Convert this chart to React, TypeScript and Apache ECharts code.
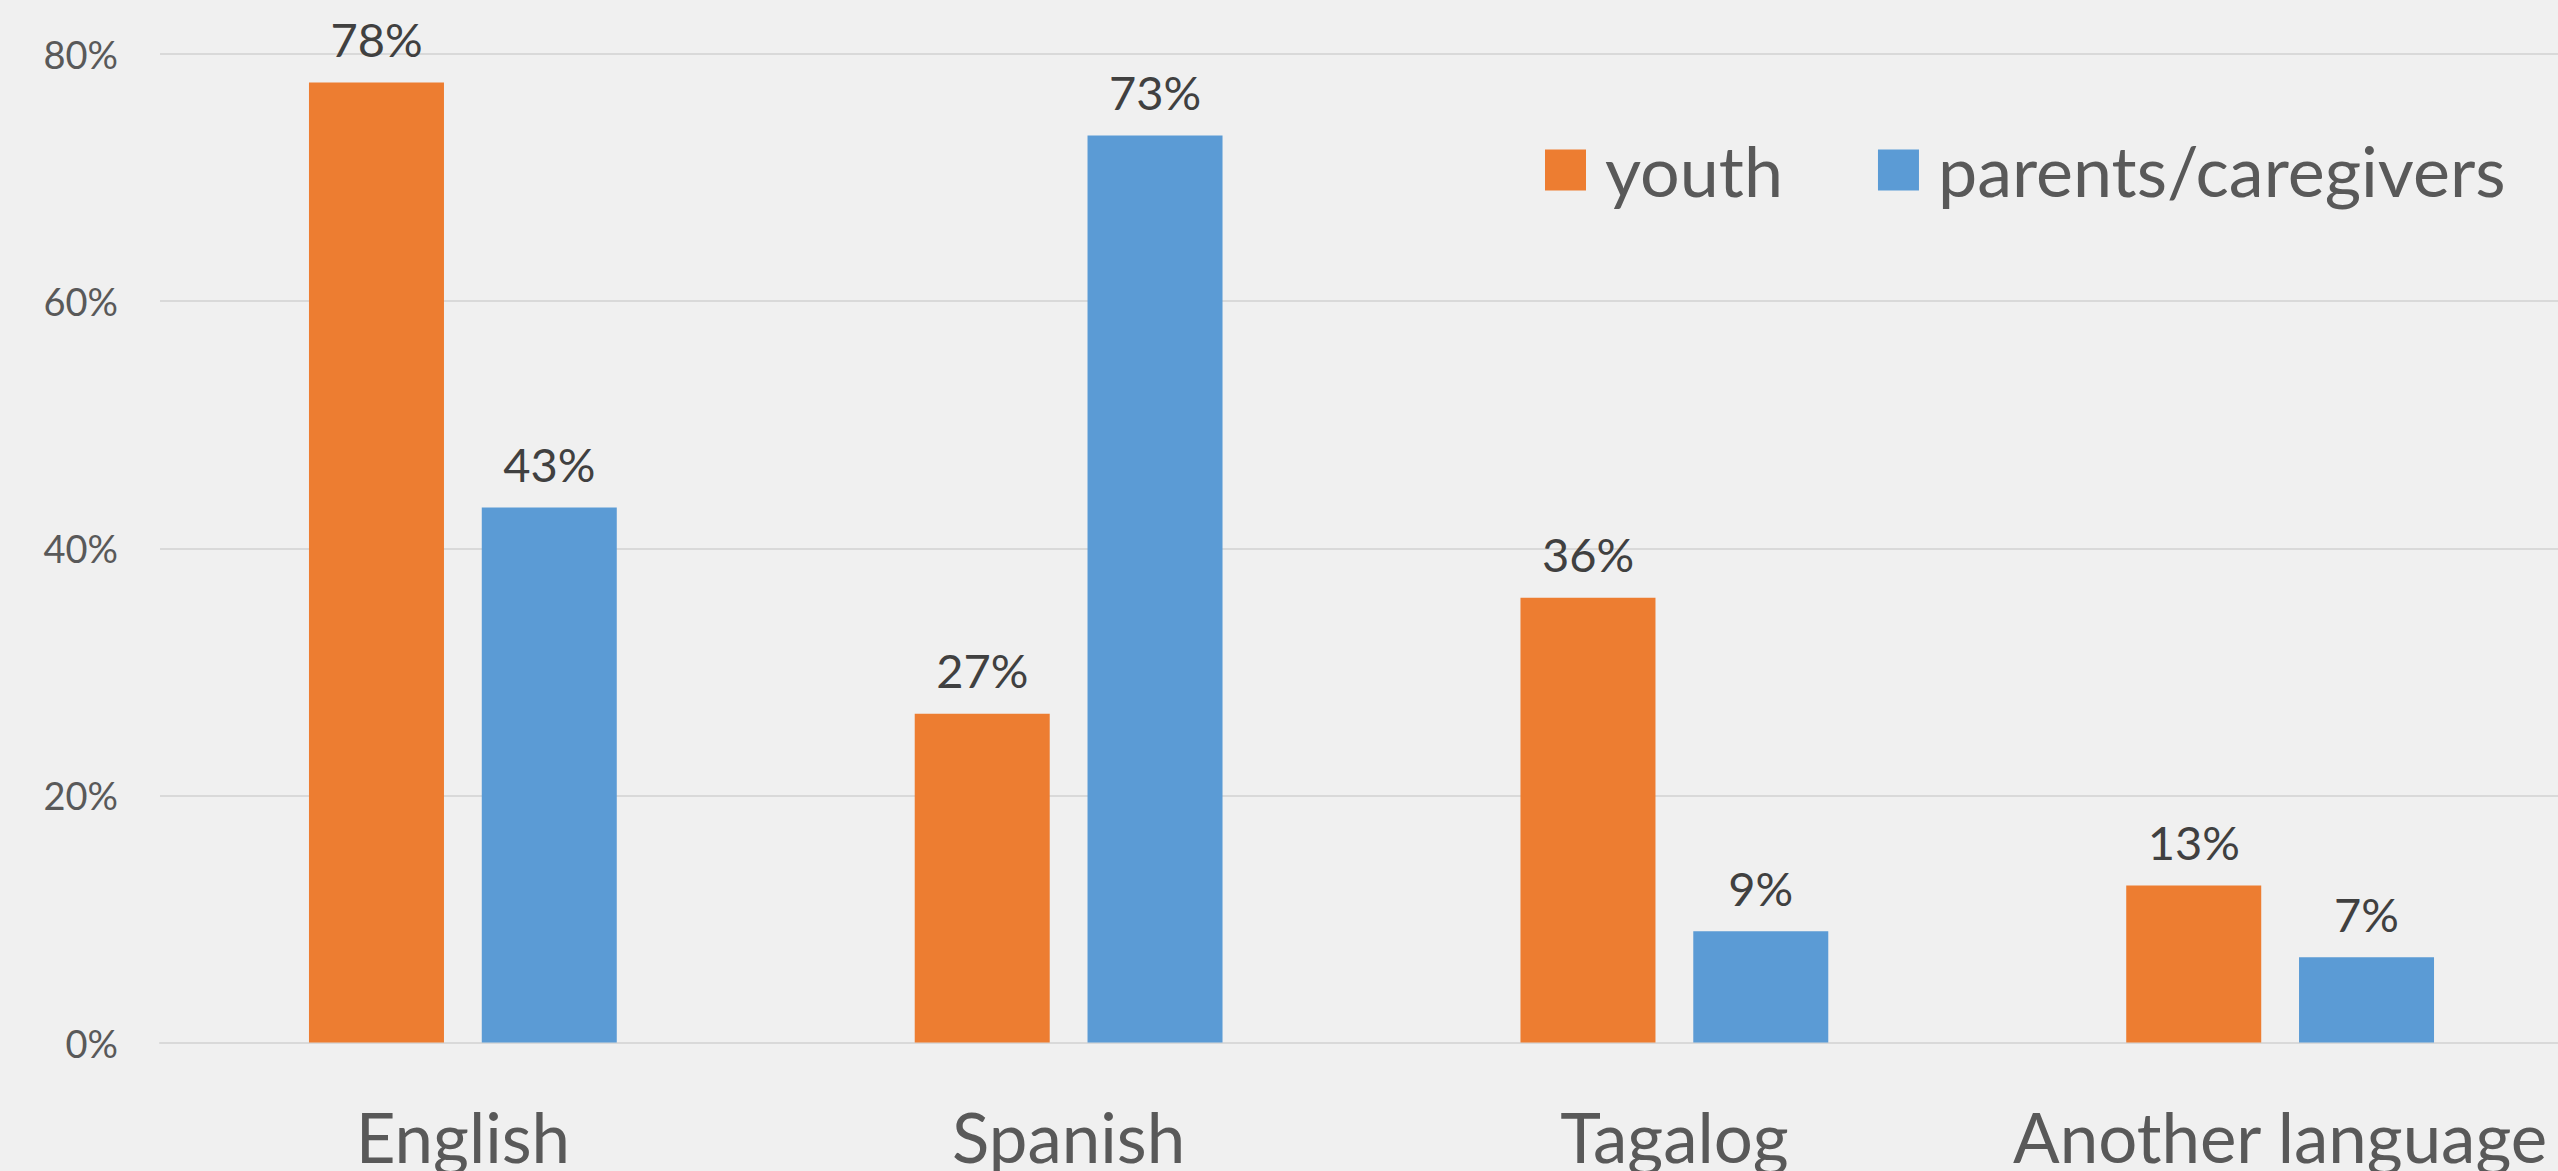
import React, { useEffect, useRef } from "react";
import * as echarts from "echarts";

const categories = ["English", "Spanish", "Tagalog", "Another language"];
const youth = [77.7, 26.6, 36.0, 12.7];
const parents = [43.3, 73.4, 9.0, 6.9];
const seriesNames = ["youth", "parents/caregivers"];
const yTicks = [0, 20, 40, 60, 80];

const FONT = "Lato";

export default function App() {
  const ref = useRef<HTMLDivElement>(null);
  useEffect(() => {
    document.body.style.margin = "0";
    const chart = echarts.init(ref.current!, null, { renderer: "svg" });
    const labelCfg = {
      show: true,
      position: "top",
      distance: 20,
      fontFamily: FONT,
      fontSize: 47,
      color: "#404040",
      formatter: (p: any) => Math.round(p.value) + "%",
    };
    chart.setOption({
      animation: false,
      backgroundColor: "#f0f0f0",
      textStyle: { fontFamily: FONT },
      grid: {
        left: 160,
        width: 2423,
        top: 54,
        bottom: 128.5,
        outerBoundsMode: "none",
        containLabel: false,
      },
      legend: {
        left: 1540,
        top: 130,
        itemWidth: 41,
        itemHeight: 41,
        itemGap: 95,
        icon: "rect",
        data: seriesNames,
        textStyle: {
          fontFamily: FONT,
          fontSize: 70,
          color: "#595959",
          padding: [0, 0, 0, 14],
        },
      },
      xAxis: {
        type: "category",
        data: categories,
        axisLine: { show: true, lineStyle: { color: "#d9d9d9", width: 2 } },
        axisTick: { show: false },
        axisLabel: {
          fontFamily: FONT,
          fontSize: 69,
          color: "#595959",
          margin: 59,
          interval: 0,
        },
      },
      yAxis: {
        type: "value",
        min: yTicks[0],
        max: yTicks[yTicks.length - 1],
        interval: 20,
        axisLine: { show: false },
        axisTick: { show: false },
        splitLine: { lineStyle: { color: "#d9d9d9", width: 2 } },
        axisLabel: {
          fontFamily: FONT,
          fontSize: 38,
          color: "#595959",
          margin: 42,
          formatter: (v: number) => v + "%",
        },
      },
      series: [
        {
          name: seriesNames[0],
          type: "bar",
          data: youth,
          barWidth: 135,
          barGap: "28%",
          itemStyle: { color: "#ED7D31" },
          label: labelCfg,
        },
        {
          name: seriesNames[1],
          type: "bar",
          data: parents,
          barWidth: 135,
          barGap: "28%",
          itemStyle: { color: "#5B9BD5" },
          label: labelCfg,
        },
      ],
    });
    return () => chart.dispose();
  }, []);
  return (
    <div
      ref={ref}
      style={{ position: "fixed", left: 0, top: 0, width: 2558, height: 1171 }}
    />
  );
}
